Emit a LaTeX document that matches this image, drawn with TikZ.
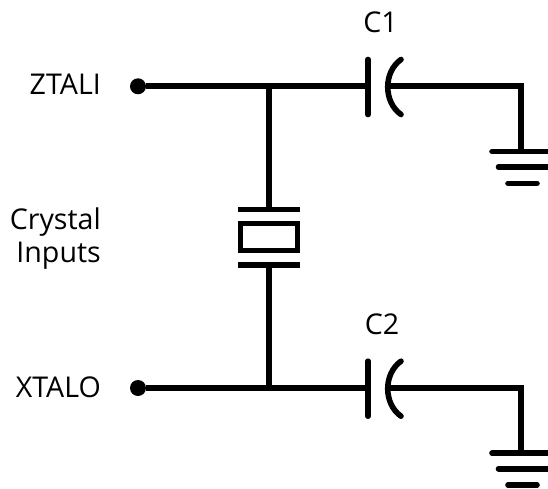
\documentclass[tikz,border=0pt]{standalone}
\usepackage{fontspec}
\setmainfont{Open Sans}
\tikzset{
  wire/.style={line width=5.6pt,line cap=butt,line join=miter},
  roundwire/.style={line width=5.6pt,line cap=round},
  plate/.style={line width=5.4pt,line cap=butt},
  term/.style={circle,fill=black,inner sep=0pt,minimum size=16pt},
  lbl/.style={inner sep=0pt,font=\fontsize{28.6}{33}\selectfont,align=right},
  xtalbox/.style={draw,line width=5.4pt,inner sep=0pt,minimum width=56.6pt,minimum height=26.6pt}
}
\begin{document}
\begin{tikzpicture}[x=1pt,y=-1pt]
\useasboundingbox (0,0) rectangle (548,489);
% labels
\node[lbl,anchor=base east] (zl) at (101,95) {ZTALI};
\node[lbl,anchor=base east] (xl) at (101,397) {XTALO};
\node[lbl,anchor=base east] (ci) at (101,262) {Crystal\\Inputs};
\node[lbl,anchor=base] (c1) at (380.5,33) {C1};
\node[lbl,anchor=base] (c2) at (382,334) {C2};
% terminals
\node[term] (t1) at (138,86.3) {};
\node[term] (t2) at (138,388) {};
% junctions and routing points
\coordinate (j1) at (269,86.3);
\coordinate (j2) at (269,388);
\coordinate (p1) at (368,86.3);
\coordinate (p2) at (368,388);
\coordinate (q1) at (388,86.3);
\coordinate (q2) at (388,388);
\coordinate (r1) at (521,86.3);
\coordinate (r2) at (521,388);
\coordinate (g1) at (521,151.5);
\coordinate (g2) at (521,453.2);
% crystal
\node[xtalbox] (x) at (269,237) {};
\coordinate (pt) at (269,209.7);
\coordinate (pb) at (269,265);
\draw[plate] (238,209.7) -- (300,209.7);
\draw[plate] (238,265) -- (300,265);
% wires
\draw[wire] (t1) -- (p1);
\draw[wire] (t2) -- (p2);
\draw[wire] (j1) -- (pt);
\draw[wire] (j2) -- (pb);
\draw[wire] (q1) -- (r1) -- (g1);
\draw[wire] (q2) -- (r2) -- (g2);
% capacitors
\foreach \y in {86,387.7}{
  \draw[roundwire] (368,\y-26.5) -- (368,\y+28.5);
  \draw[roundwire] (401,\y-26.5) .. controls (383.3,\y-14) and (383.3,\y+16) .. (401,\y+28.5);
  \draw[roundwire] (492,\y+65.5) -- (551,\y+65.5);
  \draw[roundwire] (498.5,\y+81) -- (551,\y+81);
  \draw[roundwire] (508,\y+97.3) -- (537,\y+97.3);
}
\end{tikzpicture}
\end{document}
